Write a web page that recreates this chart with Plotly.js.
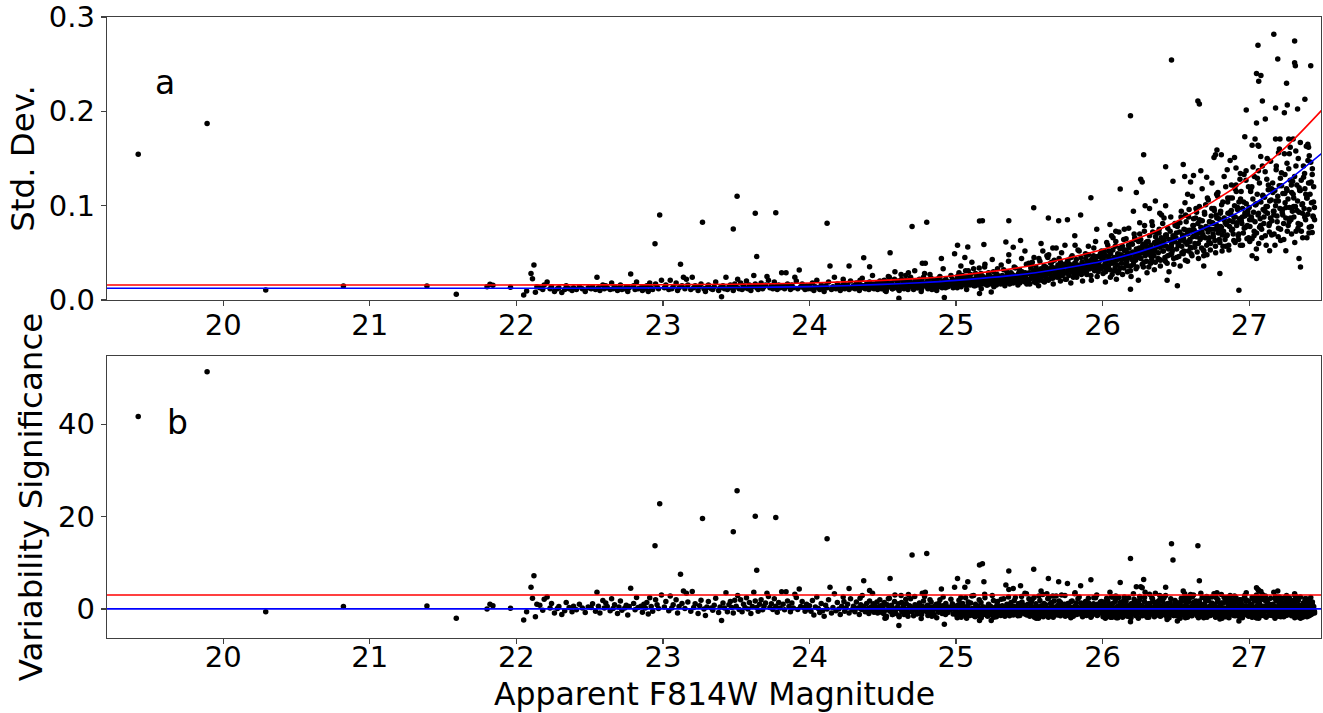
<!DOCTYPE html>
<html>
<head>
<meta charset="utf-8">
<script src="https://cdn.plot.ly/plotly-3.0.1.min.js"></script>
<style>html,body{margin:0;padding:0;background:#fff;}#chart{width:1323px;height:713px;}</style>
</head>
<body>
<div id="chart"></div>
<script>
// ---------- tick labels and titles ----------
const xTicks = [20, 21, 22, 23, 24, 25, 26, 27];
const xTickText = ['20', '21', '22', '23', '24', '25', '26', '27'];
const stdTicks = [0, 0.1, 0.2, 0.3];
const stdTickText = ['0.0', '0.1', '0.2', '0.3'];
const sigTicks = [0, 20, 40];
const sigTickText = ['0', '20', '40'];
const xTitle = 'Apparent F814W Magnitude';

// ---------- model curves (panel a) ----------
const curveMag = [19.0, 22.0, 23.0, 23.5, 24.0, 24.5, 24.75, 25.0, 25.5, 25.75, 26.0, 26.25, 26.5, 26.75, 27.0, 27.25, 27.5];
const blueCurve = [0.0124, 0.0124, 0.0128, 0.0132, 0.0142, 0.0165, 0.0183, 0.0208, 0.028, 0.034, 0.041, 0.051, 0.064, 0.080, 0.099, 0.125, 0.156];
const redCurve = [0.0159, 0.0159, 0.0162, 0.0167, 0.018, 0.0208, 0.0229, 0.026, 0.036, 0.044, 0.0535, 0.066, 0.083, 0.104, 0.130, 0.162, 0.202];

// ---------- threshold levels (panel b) ----------
const sigLineMag = [19.0, 27.7];
const sigRedLevel = [3, 3];
const sigBlueLevel = [0, 0];

// ---------- isolated / outlying stars ----------
const outMag = [19.42, 19.89, 20.29, 20.82, 21.39, 21.59, 21.80, 21.82, 21.84, 21.96,
  22.05, 22.07, 22.10, 22.12, 22.11, 22.13, 22.14,
  22.946, 22.978, 23.27, 23.48, 23.506, 23.63, 23.77, 23.64, 24.12, 23.12,
  24.37, 24.55, 24.41, 24.14, 24.27, 23.40, 24.61,
  27.168, 27.06, 27.31, 26.47, 27.195, 27.31, 27.315, 27.42, 27.05, 27.08,
  27.065, 27.255, 26.65, 26.66, 27.09, 27.38, 27.18, 27.26, 27.24, 27.33,
  26.98, 26.19, 27.11, 27.05, 26.97, 27.04, 27.06, 27.065, 27.02, 27.18,
  27.21, 27.27, 27.30, 27.40, 27.405, 27.41, 27.20, 27.28, 26.78, 26.81,
  26.76, 26.77, 26.90, 26.87, 26.91, 26.28, 26.43, 26.55, 26.94, 26.56,
  26.62, 26.67, 26.48, 26.26, 26.27, 26.12, 26.23, 25.92, 26.58, 26.29,
  26.32, 26.43, 26.21, 25.85, 25.63, 25.70, 25.76, 25.53, 25.36, 25.16,
  25.18, 24.80, 24.70, 25.19, 25.01, 25.08, 25.44, 25.34, 25.39, 24.90,
  24.99, 24.77, 24.79, 27.34, 27.35, 27.43, 27.05, 27.02, 26.93, 26.19,
  26.51, 26.69, 26.80, 26.44, 24.92, 25.16, 25.24, 27.25, 27.14, 25.06,
  25.36, 25.47, 25.58, 25.66, 25.81, 25.96, 26.05, 26.09, 26.36, 26.39,
  26.60, 26.71, 26.85];
const outStd = [0.1545, 0.187, 0.0106, 0.0148, 0.0148, 0.006, 0.014, 0.0166, 0.0156, 0.0135,
  0.0053, 0.0095, 0.028, 0.037, 0.0226, 0.0081, 0.0141,
  0.0597, 0.090, 0.0823, 0.0753, 0.110, 0.0919, 0.0926, 0.046, 0.0813, 0.038,
  0.0449, 0.050, 0.0353, 0.036, 0.036, 0.0035, 0.0018,
  0.2816, 0.270, 0.2745, 0.2544, 0.2555, 0.2516, 0.2484, 0.2484, 0.240, 0.238,
  0.232, 0.2297, 0.211, 0.2078, 0.211, 0.2127, 0.2035, 0.2067, 0.1985, 0.2025,
  0.2014, 0.1954, 0.1919, 0.1876, 0.173, 0.1708, 0.164, 0.163, 0.164, 0.1706,
  0.1706, 0.1706, 0.1706, 0.165, 0.162, 0.153, 0.156, 0.162, 0.159, 0.154,
  0.151, 0.154, 0.151, 0.148, 0.140, 0.154, 0.1413, 0.1436, 0.134, 0.131,
  0.132, 0.137, 0.126, 0.128, 0.125, 0.1177, 0.114, 0.1085, 0.112, 0.100,
  0.097, 0.100, 0.094, 0.090, 0.087, 0.084, 0.085, 0.0979, 0.084, 0.0837,
  0.084, 0.0823, 0.078, 0.0589, 0.058, 0.0562, 0.063, 0.0614, 0.056, 0.044,
  0.049, 0.039, 0.039, 0.044, 0.035, 0.0715, 0.044, 0.047, 0.0103, 0.0113,
  0.015, 0.036, 0.028, 0.021, 0.0025, 0.007, 0.0085, 0.0523, 0.0523, 0.045,
  0.048, 0.052, 0.060, 0.055, 0.068, 0.075, 0.080, 0.073, 0.105, 0.092,
  0.125, 0.130, 0.138];
const outSig = [41.7, 51.4, -0.6, 0.5, 0.65, -2.0, 0.0, 1.0, 0.7, 0.15,
  -2.4, -0.6, 4.7, 7.2, 2.3, -1.7, 1.0,
  13.7, 22.8, 19.6, 16.7, 25.6, 20.1, 19.8, 8.4, 15.2, 7.5,
  6.1, 6.6, 4.0, 4.7, 4.4, -2.5, -3.6,
  3.6, 4.2, 3.3, 14.1, 3.9, 3.0, 2.8, 2.5, 4.6, 3.8,
  4.0, 2.9, 13.7, 6.1, 3.1, 2.2, 2.7, 2.6, 2.3, 2.0,
  3.5, 10.9, 2.8, 3.0, 2.9, 2.6, 2.4, 2.2, 2.5, 2.2,
  2.0, 1.9, 1.8, 1.5, 1.4, 1.2, 1.7, 1.6, 3.5, 3.1,
  3.3, 3.2, 2.8, 2.9, 2.4, 6.4, 4.7, 3.9, 2.0, 3.3,
  3.0, 3.4, 10.6, 4.8, 4.6, 5.7, 4.8, 6.3, 2.6, 3.6,
  3.2, 2.9, 3.3, 5.0, 6.6, 5.9, 5.5, 8.6, 8.2, 9.5,
  9.8, 12.0, 11.7, 5.9, 6.6, 5.9, 5.0, 5.2, 4.4, 4.3,
  4.7, 3.4, 3.6, -1.8, -2.0, -0.9, -1.9, -1.7, -2.6, -2.8,
  -2.6, -1.9, -2.2, -2.3, -3.3, -2.5, -2.5, -1.4, -1.3, 4.7,
  4.2, 3.4, 3.9, 2.8, 3.3, 3.0, 3.6, 2.8, 3.4, 2.9,
  3.1, 2.7, 2.5];

// ---------- bulk: bright stars 22.15 - 24.5 ----------
const brightMag = [
  22.16,22.18,22.19,22.21,22.23,22.24,22.26,22.28,22.29,22.31,
  22.33,22.34,22.36,22.38,22.39,22.41,22.43,22.45,22.47,22.49,
  22.51,22.52,22.54,22.55,22.56,22.57,22.59,22.60,22.61,22.62,
  22.64,22.65,22.66,22.67,22.69,22.70,22.71,22.72,22.74,22.75,
  22.76,22.77,22.78,22.80,22.81,22.82,22.83,22.85,22.86,22.87,
  22.88,22.89,22.90,22.91,22.92,22.93,22.95,22.96,22.97,22.99,
  23.01,23.02,23.04,23.05,23.06,23.07,23.09,23.10,23.11,23.13,
  23.14,23.15,23.16,23.17,23.19,23.20,23.21,23.22,23.24,23.25,
  23.26,23.28,23.29,23.30,23.31,23.33,23.34,23.35,23.36,23.38,
  23.39,23.41,23.42,23.43,23.44,23.45,23.46,23.47,23.48,23.49,
  23.50,23.51,23.52,23.53,23.54,23.55,23.56,23.57,23.58,23.59,
  23.60,23.61,23.62,23.63,23.64,23.65,23.66,23.67,23.68,23.69,
  23.70,23.71,23.72,23.73,23.74,23.75,23.76,23.77,23.78,23.79,
  23.80,23.81,23.82,23.83,23.84,23.85,23.86,23.87,23.88,23.89,
  23.90,23.91,23.92,23.93,23.94,23.95,23.96,23.97,23.98,23.99,
  24.00,24.01,24.02,24.03,24.04,24.05,24.06,24.07,24.08,24.09,
  24.10,24.11,24.12,24.13,24.15,24.16,24.17,24.18,24.19,24.20,
  24.21,24.22,24.23,24.24,24.25,24.26,24.27,24.28,24.29,24.30,
  24.31,24.32,24.33,24.34,24.35,24.355,24.36,24.37,24.38,24.39,
  24.40,24.405,24.41,24.42,24.425,24.43,24.44,24.445,24.45,24.46,
  24.465,24.47,24.475,24.48,24.485,24.49,24.495,24.435,24.345,24.235];
const brightStd = [
  0.013,0.011,0.016,0.019,0.012,0.014,0.009,0.012,0.013,0.008,
  0.011,0.015,0.012,0.010,0.013,0.011,0.014,0.012,0.009,0.013,
  0.012,0.014,0.011,0.024,0.013,0.010,0.016,0.012,0.015,0.013,
  0.011,0.018,0.012,0.014,0.010,0.013,0.016,0.011,0.012,0.014,
  0.009,0.013,0.0276,0.015,0.011,0.019,0.012,0.013,0.010,0.014,
  0.012,0.015,0.009,0.018,0.013,0.011,0.017,0.014,0.012,0.021,
  0.013,0.016,0.011,0.021,0.012,0.014,0.018,0.010,0.013,0.015,
  0.024,0.012,0.022,0.016,0.011,0.024,0.013,0.015,0.010,0.014,
  0.017,0.012,0.009,0.013,0.016,0.012,0.011,0.014,0.019,0.010,
  0.013,0.015,0.012,0.024,0.011,0.014,0.016,0.013,0.010,0.017,
  0.014,0.022,0.012,0.018,0.011,0.015,0.013,0.020,0.012,0.016,
  0.010,0.014,0.026,0.017,0.013,0.011,0.015,0.018,0.012,0.014,
  0.016,0.025,0.021,0.013,0.015,0.012,0.019,0.014,0.011,0.016,
  0.013,0.029,0.015,0.012,0.029,0.017,0.014,0.011,0.016,0.013,
  0.024,0.020,0.012,0.0318,0.014,0.017,0.013,0.011,0.015,0.012,
  0.015,0.012,0.018,0.010,0.014,0.021,0.013,0.011,0.016,0.012,
  0.009,0.015,0.013,0.019,0.011,0.014,0.024,0.012,0.017,0.013,
  0.010,0.015,0.022,0.012,0.014,0.016,0.011,0.020,0.013,0.015,
  0.012,0.018,0.014,0.010,0.016,0.013,0.023,0.015,0.012,0.017,
  0.014,0.011,0.019,0.015,0.013,0.026,0.012,0.016,0.014,0.018,
  0.011,0.015,0.013,0.020,0.016,0.012,0.014,0.017,0.021,0.018];
const brightSig = [
  0.8,-0.3,2.1,2.6,0.2,1.2,-0.9,0.1,0.5,-1.2,
  -0.4,1.4,0.3,-0.6,0.6,-0.2,1.0,0.2,-0.8,0.4,
  0.3,1.1,-0.5,3.6,0.6,-0.9,1.8,0.2,1.3,0.5,
  -0.4,2.2,0.1,0.9,-1.0,0.4,1.7,-0.3,0.2,0.8,
  -1.3,0.5,4.5,1.2,-0.2,2.5,0.3,0.6,-0.7,1.0,
  0.2,1.4,-1.1,2.4,0.5,-0.5,2.0,0.9,0.1,3.0,
  0.4,1.6,-0.4,2.8,0.2,0.9,2.0,-0.9,0.5,1.2,
  3.9,0.1,3.4,1.5,-0.5,3.8,0.3,1.1,-1.0,0.7,
  1.9,0.0,-1.4,0.4,1.6,0.2,-0.3,0.8,2.3,-0.8,
  0.4,1.3,0.2,3.5,-0.6,0.9,1.6,0.3,-0.9,1.9,
  0.6,2.9,-0.1,2.0,-0.6,1.0,0.3,2.4,0.0,1.4,
  -1.0,0.5,3.6,1.7,0.3,-0.5,1.0,2.0,-0.2,0.6,
  1.3,3.4,2.7,0.3,1.1,-0.1,2.2,0.6,-0.7,1.4,
  0.2,3.7,1.0,-0.2,3.7,1.7,0.5,-0.6,1.3,0.2,
  3.2,2.5,-0.1,4.3,0.5,1.6,0.3,-0.5,1.0,0.0,
  0.7,-0.5,1.8,-1.3,0.4,2.6,0.1,-0.8,1.2,-0.4,
  -1.6,0.8,0.0,2.0,-0.9,0.3,3.3,-0.4,1.4,0.0,
  -1.2,0.6,2.6,-0.5,0.2,1.0,-0.9,2.2,-0.2,0.6,
  -0.6,1.5,0.2,-1.2,0.9,-0.1,2.9,0.5,-0.6,1.2,
  0.1,-1.0,1.7,0.4,-0.3,3.4,-0.7,0.7,0.0,1.5,
  -0.9,0.4,-0.3,2.0,0.7,-0.7,0.1,1.1,2.3,1.6];

// ---------- bulk: intermediate stars 24.5 - 25.5 ----------
const midMag = [
  24.50,24.505,24.51,24.52,24.525,24.53,24.54,24.545,24.55,24.56,
  24.565,24.57,24.58,24.585,24.59,24.60,24.605,24.61,24.62,24.625,
  24.63,24.64,24.645,24.65,24.66,24.665,24.67,24.68,24.685,24.69,
  24.70,24.705,24.71,24.72,24.725,24.73,24.74,24.745,24.75,24.76,
  24.765,24.77,24.78,24.785,24.79,24.80,24.805,24.81,24.82,24.825,
  24.83,24.84,24.845,24.85,24.86,24.865,24.87,24.88,24.885,24.89,
  24.90,24.905,24.91,24.92,24.925,24.93,24.94,24.945,24.95,24.96,
  24.965,24.97,24.98,24.985,24.99,24.995,24.515,24.675,24.835,24.975,
  25.000,25.005,25.010,25.015,25.020,25.025,25.030,25.035,25.040,25.045,
  25.050,25.055,25.060,25.065,25.070,25.075,25.080,25.085,25.090,25.095,
  25.100,25.105,25.110,25.115,25.120,25.125,25.130,25.135,25.140,25.145,
  25.150,25.155,25.160,25.165,25.170,25.175,25.180,25.185,25.190,25.195,
  25.200,25.205,25.210,25.215,25.220,25.225,25.230,25.235,25.240,25.245,
  25.250,25.255,25.260,25.265,25.270,25.275,25.280,25.285,25.290,25.295,
  25.300,25.305,25.310,25.315,25.320,25.325,25.330,25.335,25.340,25.345,
  25.350,25.355,25.360,25.365,25.370,25.375,25.380,25.385,25.390,25.395,
  25.400,25.405,25.410,25.415,25.420,25.425,25.430,25.435,25.440,25.445,
  25.450,25.455,25.460,25.465,25.470,25.475,25.480,25.485,25.490,25.495];
const midStd = [
  0.017,0.013,0.021,0.015,0.011,0.019,0.016,0.024,0.014,0.018,
  0.012,0.016,0.022,0.015,0.013,0.017,0.020,0.011,0.016,0.027,
  0.014,0.018,0.012,0.016,0.021,0.015,0.013,0.019,0.017,0.024,
  0.014,0.016,0.011,0.020,0.015,0.018,0.013,0.017,0.022,0.016,
  0.012,0.019,0.015,0.028,0.017,0.014,0.020,0.016,0.013,0.018,
  0.023,0.015,0.017,0.012,0.019,0.021,0.016,0.014,0.018,0.025,
  0.016,0.013,0.020,0.017,0.015,0.022,0.018,0.014,0.019,0.016,
  0.026,0.017,0.013,0.020,0.018,0.015,0.010,0.029,0.011,0.022,
  0.021,0.016,0.025,0.019,0.029,0.018,0.022,0.014,0.020,0.026,
  0.017,0.023,0.019,0.031,0.015,0.021,0.024,0.018,0.020,0.016,
  0.027,0.019,0.022,0.017,0.033,0.020,0.015,0.023,0.021,0.018,
  0.025,0.016,0.022,0.019,0.028,0.021,0.017,0.024,0.020,0.035,
  0.018,0.023,0.021,0.016,0.026,0.022,0.019,0.025,0.017,0.023,
  0.021,0.030,0.018,0.024,0.020,0.016,0.027,0.022,0.019,0.025,
  0.023,0.017,0.021,0.026,0.020,0.032,0.018,0.024,0.022,0.019,
  0.027,0.021,0.025,0.017,0.023,0.029,0.020,0.024,0.018,0.026,
  0.022,0.034,0.019,0.025,0.021,0.028,0.023,0.018,0.026,0.022,
  0.030,0.020,0.024,0.027,0.019,0.025,0.038,0.022,0.028,0.021];
const midSig = [
  0.3,-1.0,1.4,-0.3,-1.6,0.9,0.0,2.3,-0.5,0.8,
  -1.2,0.1,1.6,-0.4,-1.0,0.2,1.1,-1.5,0.0,2.9,
  -0.6,0.6,-1.2,0.0,1.2,-0.4,-0.9,0.7,0.2,2.2,
  -0.6,0.0,-1.5,0.9,-0.3,0.5,-0.9,0.2,1.3,-0.1,
  -1.2,0.6,-0.4,2.7,0.1,-0.6,0.8,-0.1,-0.9,0.4,
  1.5,-0.4,0.1,-1.2,0.5,1.0,-0.1,-0.7,0.3,2.0,
  -0.2,-1.0,0.7,0.1,-0.5,1.2,0.3,-0.8,0.4,-0.2,
  2.1,0.0,-1.1,0.6,0.2,-0.5,-2.0,3.1,-1.6,1.1,
  0.0,-1.4,0.8,-0.8,1.9,-1.0,0.3,-1.8,-0.5,1.2,
  -1.2,0.4,-0.7,2.4,-1.6,-0.1,0.6,-1.0,-0.4,-1.4,
  1.3,-0.8,0.1,-1.2,2.9,-0.4,-1.7,0.3,-0.2,-1.1,
  0.6,-1.5,0.0,-0.8,1.4,-0.2,-1.3,0.4,-0.5,3.2,
  -1.1,0.2,-0.3,-1.6,0.8,-0.1,-0.9,0.6,-1.3,0.2,
  -0.4,1.8,-1.2,0.3,-0.6,-1.7,1.0,-0.2,-1.0,0.5,
  0.0,-1.4,-0.5,0.7,-0.7,2.2,-1.3,0.2,-0.3,-1.0,
  0.9,-0.5,0.4,-1.5,-0.1,1.4,-0.8,0.2,-1.3,0.6,
  -0.4,2.5,-1.1,0.3,-0.6,1.1,-0.2,-1.4,0.5,-0.4,
  1.5,-0.9,0.0,0.8,-1.1,0.2,3.3,-0.5,1.0,-0.7];

// ---------- bulk: faint stars 25.5 - 26.5 ----------
const faintMag = [
  25.500,25.505,25.510,25.515,25.520,25.525,25.530,25.535,25.540,25.545,
  25.550,25.555,25.560,25.565,25.570,25.575,25.580,25.585,25.590,25.595,
  25.600,25.605,25.610,25.615,25.620,25.625,25.630,25.635,25.640,25.645,
  25.650,25.655,25.660,25.665,25.670,25.675,25.680,25.685,25.690,25.695,
  25.700,25.705,25.710,25.715,25.720,25.725,25.730,25.735,25.740,25.745,
  25.750,25.755,25.760,25.765,25.770,25.775,25.780,25.785,25.790,25.795,
  25.800,25.805,25.810,25.815,25.820,25.825,25.830,25.835,25.840,25.845,
  25.850,25.855,25.860,25.865,25.870,25.875,25.880,25.885,25.890,25.895,
  25.900,25.905,25.910,25.915,25.920,25.925,25.930,25.935,25.940,25.945,
  25.950,25.955,25.960,25.965,25.970,25.975,25.980,25.985,25.990,25.995,
  25.513,25.547,25.582,25.626,25.668,25.713,25.758,25.812,25.873,25.938,
  26.000,26.005,26.010,26.015,26.020,26.025,26.030,26.035,26.040,26.045,
  26.050,26.055,26.060,26.065,26.070,26.075,26.080,26.085,26.090,26.095,
  26.100,26.105,26.110,26.115,26.120,26.125,26.130,26.135,26.140,26.145,
  26.150,26.155,26.160,26.165,26.170,26.175,26.180,26.185,26.190,26.195,
  26.200,26.205,26.210,26.215,26.220,26.225,26.230,26.235,26.240,26.245,
  26.250,26.255,26.260,26.265,26.270,26.275,26.280,26.285,26.290,26.295,
  26.300,26.305,26.310,26.315,26.320,26.325,26.330,26.335,26.340,26.345,
  26.350,26.355,26.360,26.365,26.370,26.375,26.380,26.385,26.390,26.395,
  26.400,26.405,26.410,26.415,26.420,26.425,26.430,26.435,26.440,26.445,
  26.450,26.455,26.460,26.465,26.470,26.475,26.480,26.485,26.490,26.495,
  26.012,26.027,26.043,26.058,26.071,26.088,26.104,26.119,26.133,26.148,
  26.162,26.177,26.191,26.206,26.222,26.238,26.253,26.267,26.282,26.297,
  26.313,26.328,26.342,26.357,26.373,26.388,26.402,26.418,26.433,26.471];
const faintStd = [
  0.029,0.022,0.034,0.026,0.040,0.024,0.031,0.019,0.028,0.035,
  0.023,0.030,0.026,0.044,0.021,0.029,0.033,0.025,0.027,0.020,
  0.036,0.026,0.031,0.023,0.047,
  0.028,0.021,0.033,0.030,0.039,0.026,0.035,0.023,0.031,0.042,
  0.027,0.034,0.029,0.024,0.037,0.032,0.025,0.036,0.030,0.050,
  0.026,0.033,0.028,0.038,0.022,
  0.035,0.029,0.041,0.032,0.026,0.038,0.033,0.045,0.030,0.036,
  0.024,0.034,0.039,0.031,0.043,0.028,0.037,0.033,0.052,0.030,
  0.036,0.027,0.040,0.034,0.031,
  0.038,0.032,0.044,0.029,0.041,0.036,0.048,0.033,0.040,0.026,
  0.043,0.037,0.035,0.055,0.031,0.042,0.038,0.034,0.046,0.030,
  0.040,0.036,0.049,0.033,0.044,
  0.037,0.018,0.030,0.045,0.025,0.040,0.029,0.058,0.034,0.047,
  0.043,0.035,0.051,0.038,0.030,0.047,0.041,0.058,0.036,0.044,
  0.032,0.049,0.040,0.027,0.053,0.039,0.045,0.034,0.062,0.042,
  0.037,0.048,0.031,0.044,0.055,
  0.048,0.039,0.057,0.044,0.034,0.052,0.046,0.065,0.041,0.050,
  0.036,0.055,0.045,0.031,0.060,0.043,0.051,0.038,0.070,0.047,
  0.042,0.054,0.035,0.049,0.062,
  0.055,0.045,0.064,0.050,0.038,0.059,0.052,0.073,0.047,0.057,
  0.041,0.062,0.051,0.035,0.068,0.049,0.058,0.043,0.079,0.053,
  0.047,0.061,0.040,0.056,0.071,
  0.061,0.050,0.071,0.056,0.042,0.066,0.058,0.081,0.052,0.063,
  0.045,0.069,0.057,0.039,0.076,0.054,0.064,0.048,0.088,0.059,
  0.052,0.068,0.044,0.062,0.079,
  0.046,0.033,0.052,0.039,0.066,0.044,0.029,0.054,0.047,0.075,
  0.042,0.058,0.036,0.050,0.064,0.045,0.082,0.053,0.040,0.061,
  0.056,0.047,0.072,0.052,0.063,0.043,0.090,0.058,0.067,0.049];
const faintSig = [
  0.0,-1.3,0.9,-0.5,2.1,-0.9,0.3,-1.8,-0.2,1.1,
  -1.1,0.2,-0.5,2.8,-1.5,0.0,0.7,-0.7,-0.3,-1.7,
  1.2,-0.5,0.4,-1.1,3.3,
  -0.7,-1.8,0.2,-0.3,1.2,-1.0,0.5,-1.5,-0.1,1.7,
  -0.8,0.4,-0.5,-1.3,0.8,0.0,-1.2,0.7,-0.3,3.0,
  -1.0,0.2,-0.7,1.0,-1.6,
  0.0,-0.9,0.9,-0.5,-1.4,0.5,-0.3,1.6,-0.8,0.2,
  -1.6,-0.2,0.6,-0.6,1.3,-1.1,0.3,-0.3,2.6,-0.8,
  0.1,-1.2,0.8,-0.2,-0.6,
  -0.1,-1.0,0.7,-1.4,0.3,-0.4,1.3,-0.8,0.2,-1.8,
  0.6,-0.3,-0.5,2.4,-1.1,0.4,-0.1,-0.7,1.0,-1.2,
  0.2,-0.4,1.5,-0.8,0.7,
  1.6,-2.0,0.2,2.2,-1.2,1.4,-0.9,3.5,-0.6,1.1,
  0.0,-0.9,0.9,-0.6,-1.5,0.5,-0.2,1.7,-0.8,0.1,
  -1.3,0.7,-0.3,-1.8,1.2,-0.5,0.2,-1.0,2.2,-0.1,
  -0.7,0.6,-1.4,0.1,1.4,
  -0.1,-1.0,0.8,-0.5,-1.5,0.3,-0.3,1.6,-0.8,0.1,
  -1.3,0.6,-0.4,-1.8,1.1,-0.6,0.2,-1.1,2.1,-0.2,
  -0.7,0.5,-1.4,0.0,1.3,
  0.0,-0.9,0.8,-0.5,-1.5,0.4,-0.3,1.6,-0.7,0.2,
  -1.3,0.6,-0.4,-1.8,1.2,-0.5,0.3,-1.1,2.2,-0.2,
  -0.7,0.5,-1.4,0.1,1.5,
  0.0,-0.9,0.8,-0.4,-1.6,0.4,-0.2,1.6,-0.7,0.2,
  -1.3,0.7,-0.3,-1.8,1.2,-0.6,0.2,-1.1,2.2,-0.2,
  -0.7,0.6,-1.4,0.1,1.5,
  0.5,-1.1,1.1,-0.6,2.6,-0.1,-1.9,0.8,-0.2,2.6,
  -0.8,0.7,-1.4,-0.1,1.3,-0.6,2.7,-0.2,-1.3,0.5,
  -0.1,-0.9,1.5,-0.6,0.2,-1.5,2.6,-0.5,0.4,-1.1];

// ---------- bulk: faintest stars 26.5 - 27.45 ----------
const faintestMag = [
  26.500,26.505,26.510,26.515,26.520,26.525,26.530,26.535,26.540,26.545,
  26.550,26.555,26.560,26.565,26.570,26.575,26.580,26.585,26.590,26.595,
  26.600,26.605,26.610,26.615,26.620,26.625,26.630,26.635,26.640,26.645,
  26.650,26.655,26.660,26.665,26.670,26.675,26.680,26.685,26.690,26.695,
  26.700,26.705,26.710,26.715,26.720,26.725,26.730,26.735,26.740,26.745,
  26.750,26.755,26.760,26.765,26.770,26.775,26.780,26.785,26.790,26.795,
  26.800,26.805,26.810,26.815,26.820,26.825,26.830,26.835,26.840,26.845,
  26.850,26.855,26.860,26.865,26.870,26.875,26.880,26.885,26.890,26.895,
  26.900,26.905,26.910,26.915,26.920,26.925,26.930,26.935,26.940,26.945,
  26.950,26.955,26.960,26.965,26.970,26.975,26.980,26.985,26.990,26.995,
  26.503,26.516,26.528,26.541,26.553,26.566,26.578,26.591,26.603,26.616,
  26.628,26.641,26.653,26.666,26.678,26.691,26.703,26.716,26.728,26.741,
  26.753,26.766,26.778,26.791,26.803,26.816,26.828,26.841,26.853,26.866,
  26.878,26.891,26.903,26.916,26.928,26.941,26.953,26.966,26.978,26.991,
  27.000,27.005,27.010,27.015,27.020,27.025,27.030,27.035,27.040,27.045,
  27.050,27.055,27.060,27.065,27.070,27.075,27.080,27.085,27.090,27.095,
  27.100,27.105,27.110,27.115,27.120,27.125,27.130,27.135,27.140,27.145,
  27.150,27.155,27.160,27.165,27.170,27.175,27.180,27.185,27.190,27.195,
  27.200,27.205,27.210,27.215,27.220,27.225,27.230,27.235,27.240,27.245,
  27.250,27.255,27.260,27.265,27.270,27.275,27.280,27.285,27.290,27.295,
  27.300,27.305,27.310,27.315,27.320,27.325,27.330,27.335,27.340,27.345,
  27.350,27.355,27.360,27.365,27.370,27.375,27.380,27.385,27.390,27.395,
  27.400,27.405,27.410,27.415,27.420,27.425,27.430,27.435,27.440,27.445,
  27.003,27.018,27.033,27.048,27.063,27.078,27.093,27.108,27.123,27.138,
  27.153,27.168,27.183,27.198,27.213,27.228,27.243,27.258,27.273,27.288,
  27.303,27.318,27.333,27.348,27.363,27.378,27.393,27.408,27.423,27.438];
const faintestStd = [
  0.066,0.054,0.078,0.060,0.046,0.072,0.063,0.088,0.057,0.069,
  0.049,0.075,0.062,0.042,0.083,0.059,0.070,0.052,0.096,0.064,
  0.056,0.074,0.047,0.067,0.086,
  0.074,0.060,0.087,0.067,0.051,0.081,0.071,0.099,0.064,0.077,
  0.055,0.084,0.069,0.047,0.093,0.066,0.078,0.058,0.108,0.072,
  0.062,0.083,0.053,0.075,0.097,
  0.082,0.067,0.097,0.075,0.057,0.090,0.079,0.110,0.071,0.086,
  0.061,0.094,0.077,0.052,0.104,0.073,0.087,0.064,0.120,0.080,
  0.069,0.092,0.058,0.084,0.108,
  0.091,0.074,0.108,0.083,0.063,0.100,0.088,0.122,0.079,0.096,
  0.068,0.104,0.086,0.058,0.115,0.081,0.097,0.071,0.133,0.089,
  0.077,0.102,0.065,0.094,0.120,
  0.071,0.058,0.082,0.050,0.065,0.090,0.061,0.074,0.055,0.079,
  0.068,0.093,0.060,0.084,0.072,0.052,0.101,0.077,0.066,0.089,
  0.081,0.063,0.112,0.074,0.092,0.069,0.085,0.057,0.104,0.078,
  0.095,0.070,0.118,0.082,0.064,0.107,0.088,0.076,0.127,0.091,
  0.098,0.078,0.115,0.088,0.065,0.107,0.093,0.131,0.083,0.101,
  0.071,0.112,0.090,0.060,0.124,0.086,0.104,0.075,0.142,0.096,
  0.081,0.109,0.068,0.099,0.128,0.092,0.117,0.079,0.105,0.087,
  0.106,0.084,0.124,0.094,0.070,0.116,0.100,0.142,0.089,0.110,
  0.076,0.121,0.097,0.063,0.135,0.093,0.113,0.081,0.155,0.103,
  0.087,0.118,0.073,0.107,0.139,0.098,0.127,0.085,0.114,0.094,
  0.112,0.088,0.131,0.099,0.073,0.122,0.105,0.150,0.093,0.116,
  0.080,0.127,0.101,0.066,0.142,0.097,0.118,0.085,0.163,0.108,
  0.091,0.124,0.077,0.112,0.146,0.103,0.133,0.089,0.120,0.098,
  0.085,0.120,0.068,0.102,0.137,0.079,0.111,0.094,0.150,0.072,
  0.118,0.090,0.105,0.067,0.129,0.096,0.113,0.145,0.083,0.122,
  0.099,0.158,0.076,0.116,0.092,0.134,0.108,0.071,0.125,0.088];
const faintestSig = [
  -0.1,-1.0,0.8,-0.5,-1.6,0.4,-0.3,1.6,-0.7,0.1,
  -1.3,0.6,-0.4,-1.9,1.2,-0.6,0.2,-1.1,2.2,-0.2,
  -0.8,0.5,-1.5,0.0,1.4,
  0.0,-0.9,0.9,-0.4,-1.5,0.5,-0.2,1.7,-0.8,0.2,
  -1.2,0.7,-0.5,-1.8,1.1,-0.5,0.3,-1.0,2.4,-0.1,
  -0.7,0.6,-1.4,0.1,1.3,
  -0.2,-1.1,0.7,-0.6,-1.7,0.3,-0.3,1.5,-0.6,0.0,
  -1.4,0.5,-0.3,-2.0,1.3,-0.7,0.1,-1.2,2.0,-0.3,
  -0.9,0.4,-1.6,-0.1,1.6,
  0.1,-0.8,1.0,-0.3,-1.4,0.6,-0.1,1.8,-0.5,0.3,
  -1.1,0.8,-0.2,-1.7,1.4,-0.4,0.4,-0.9,2.3,0.0,
  -0.6,0.7,-1.3,0.2,1.7,
  0.5,-0.5,1.3,-1.2,-0.1,1.6,-0.6,0.3,-1.1,0.6,
  -0.4,1.5,-1.0,0.8,-0.3,-1.6,2.0,0.1,-0.8,0.9,
  0.1,-1.1,2.3,-0.6,0.7,-1.0,0.2,-1.7,1.3,-0.8,
  0.3,-1.2,1.6,-0.8,-1.6,0.7,-0.5,-1.1,1.7,-0.4,
  0.0,-1.1,0.9,-0.6,-1.8,0.4,-0.3,1.7,-0.8,0.1,
  -1.4,0.7,-0.5,-2.0,1.3,-0.7,0.3,-1.2,2.1,-0.1,
  -0.9,0.5,-1.6,0.0,1.5,-0.4,1.0,-1.0,0.3,-0.6,
  0.1,-0.9,1.0,-0.4,-1.5,0.6,-0.1,1.9,-0.6,0.3,
  -1.2,0.9,-0.3,-1.7,1.4,-0.5,0.5,-0.9,2.4,0.0,
  -0.7,0.8,-1.3,0.2,1.6,-0.2,1.2,-0.8,0.6,-0.4,
  0.0,-1.0,0.9,-0.5,-1.6,0.5,-0.2,1.8,-0.7,0.2,
  -1.3,0.7,-0.4,-1.8,1.3,-0.6,0.4,-1.0,2.2,-0.1,
  -0.8,0.6,-1.4,0.1,1.5,-0.3,1.1,-0.9,0.5,-0.5,
  -0.7,0.9,-1.5,0.1,1.5,-1.0,0.5,-0.4,2.0,-1.3,
  0.7,-0.5,0.2,-1.6,1.1,-0.3,0.4,1.6,-0.9,0.8,
  -0.2,2.1,-1.2,0.5,-0.6,1.2,0.1,-1.5,0.9,-0.8];

// ---------- bulk: additional faint stars with the wider spread, 24.5 - 27.45 ----------
const spreadMag = [
  24.507,24.523,24.538,24.552,24.567,24.583,24.598,24.612,24.628,24.643,
  24.657,24.672,24.688,24.703,24.718,24.733,24.747,24.762,24.778,24.793,
  24.808,24.822,24.838,24.853,24.868,24.882,24.897,24.912,24.928,24.943,
  25.008,25.021,25.033,25.047,25.058,25.072,25.083,25.097,25.108,25.122,
  25.133,25.147,25.158,25.172,25.183,25.197,25.208,25.222,25.233,25.247,
  25.258,25.272,25.283,25.297,25.308,25.322,25.333,25.347,25.358,25.372,
  25.383,25.397,25.408,25.422,25.433,25.447,25.458,25.472,25.483,25.497,
  25.503,25.512,25.523,25.532,25.543,25.552,25.563,25.572,25.583,25.592,
  25.603,25.612,25.623,25.632,25.643,25.652,25.663,25.672,25.683,25.692,
  25.703,25.712,25.723,25.732,25.743,25.752,25.763,25.772,25.783,25.792,
  25.803,25.812,25.823,25.832,25.843,25.852,25.863,25.872,25.883,25.892,
  25.903,25.912,25.923,25.932,25.943,25.952,25.963,25.972,25.983,25.992,
  26.003,26.011,26.019,26.028,26.036,26.044,26.053,26.061,26.069,26.078,
  26.086,26.094,26.103,26.111,26.119,26.128,26.136,26.144,26.153,26.161,
  26.169,26.178,26.186,26.194,26.203,26.211,26.219,26.228,26.236,26.244,
  26.253,26.261,26.269,26.278,26.286,26.294,26.303,26.311,26.319,26.328,
  26.336,26.344,26.353,26.361,26.369,26.378,26.386,26.394,26.403,26.411,
  26.419,26.428,26.436,26.444,26.453,26.461,26.469,26.478,26.486,26.494,
  26.504,26.512,26.521,26.529,26.537,26.546,26.554,26.562,26.571,26.579,
  26.587,26.596,26.604,26.612,26.621,26.629,26.637,26.646,26.654,26.662,
  26.671,26.679,26.687,26.696,26.704,26.712,26.721,26.729,26.737,26.746,
  26.754,26.762,26.771,26.779,26.787,26.796,26.804,26.812,26.821,26.829,
  26.837,26.846,26.854,26.862,26.871,26.879,26.887,26.896,26.904,26.912,
  26.921,26.929,26.937,26.946,26.954,26.962,26.971,26.979,26.987,26.996,
  27.004,27.011,27.019,27.026,27.034,27.041,27.049,27.056,27.064,27.071,
  27.079,27.086,27.094,27.101,27.109,27.116,27.124,27.131,27.139,27.146,
  27.154,27.161,27.169,27.176,27.184,27.191,27.199,27.206,27.214,27.221,
  27.229,27.236,27.244,27.251,27.259,27.266,27.274,27.281,27.289,27.296,
  27.304,27.311,27.319,27.326,27.334,27.341,27.349,27.356,27.364,27.371,
  27.379,27.386,27.394,27.401,27.409,27.416,27.424,27.431,27.439,27.446];
const spreadStd = [
  0.020,0.009,0.025,0.015,0.012,0.030,0.018,0.010,0.022,0.014,
  0.026,0.011,0.019,0.016,0.031,0.013,0.021,0.009,0.024,0.017,
  0.012,0.027,0.015,0.020,0.010,0.023,0.016,0.033,0.013,0.019,
  0.013,0.027,0.036,0.017,0.024,0.011,0.031,0.020,0.040,0.015,
  0.028,0.018,0.034,0.012,0.025,0.038,0.016,0.029,0.021,0.043,
  0.014,0.026,0.033,0.019,0.037,0.023,0.015,0.030,0.041,0.018,
  0.027,0.035,0.020,0.016,0.032,0.044,0.022,0.029,0.017,0.039,
  0.017,0.038,0.025,0.045,0.021,0.032,0.015,0.041,0.027,0.052,
  0.019,0.035,0.029,0.048,0.023,0.040,0.017,0.033,0.055,0.026,
  0.044,0.020,0.037,0.030,0.058,0.022,0.042,0.034,0.018,0.047,
  0.028,0.039,0.024,0.053,0.031,0.045,0.020,0.036,0.049,0.027,
  0.057,0.033,0.021,0.043,0.038,0.062,0.025,0.046,0.035,0.052,
  0.028,0.052,0.019,0.061,0.036,0.045,0.024,0.068,0.040,0.031,
  0.057,0.022,0.049,0.072,0.034,0.043,0.027,0.064,0.053,0.038,
  0.030,0.076,0.046,0.025,0.059,0.041,0.066,0.033,0.051,0.021,
  0.070,0.044,0.056,0.035,0.079,0.048,0.029,0.062,0.054,0.039,
  0.083,0.050,0.032,0.067,0.058,0.044,0.075,0.036,0.061,0.052,
  0.087,0.041,0.069,0.047,0.030,0.073,0.056,0.064,0.038,0.081,
  0.045,0.081,0.058,0.036,0.094,0.068,0.052,0.103,0.074,0.041,
  0.088,0.062,0.049,0.110,0.079,0.056,0.097,0.071,0.044,0.085,
  0.066,0.118,0.053,0.091,0.076,0.048,0.106,0.083,0.060,0.124,
  0.070,0.095,0.050,0.087,0.114,0.064,0.078,0.101,0.057,0.131,
  0.082,0.068,0.108,0.053,0.093,0.122,0.075,0.088,0.061,0.115,
  0.098,0.070,0.128,0.084,0.058,0.104,0.092,0.137,0.079,0.066,
  0.062,0.118,0.085,0.141,0.073,0.101,0.054,0.129,0.092,0.077,
  0.152,0.066,0.110,0.088,0.136,0.058,0.099,0.122,0.081,0.147,
  0.069,0.114,0.094,0.058,0.138,0.083,0.105,0.160,0.075,0.121,
  0.090,0.064,0.133,0.098,0.116,0.079,0.155,0.087,0.070,0.126,
  0.108,0.061,0.142,0.095,0.081,0.119,0.167,0.073,0.102,0.130,
  0.088,0.112,0.066,0.148,0.096,0.124,0.078,0.139,0.104,0.085];
const spreadSig = [
  1.0,-1.9,2.2,-0.4,-1.2,3.0,0.3,-1.7,1.4,-0.8,
  2.1,-1.6,0.6,-0.3,2.7,-1.1,0.9,-2.1,1.7,0.0,
  -1.4,2.0,-0.7,0.6,-1.9,1.2,-0.4,2.6,-1.2,0.3,
  -1.9,0.9,2.5,-1.1,0.4,-2.0,1.5,-0.5,2.8,-1.5,
  1.0,-0.9,2.0,-1.9,0.4,2.4,-1.3,1.0,-0.4,2.9,
  -1.8,0.2,1.6,-1.0,2.1,-0.3,-1.6,1.0,2.6,-1.1,
  0.3,1.8,-0.7,-1.5,1.2,2.7,-0.5,0.6,-1.3,2.2,
  -1.6,1.6,-0.5,2.5,-1.1,0.5,-2.0,1.8,-0.4,3.1,
  -1.4,0.9,0.0,2.4,-1.0,1.4,-1.8,0.3,2.8,-0.7,
  1.7,-1.5,0.7,-0.2,2.9,-1.3,1.2,0.1,-1.9,1.7,
  -0.6,0.6,-1.2,2.2,-0.3,1.3,-1.7,0.2,1.6,-0.9,
  2.3,-0.3,-1.6,0.8,0.1,2.4,-1.4,0.9,-0.4,1.6,
  -1.7,1.5,-2.0,2.3,-0.7,0.4,-1.8,2.6,-0.3,-1.2,
  1.6,-1.9,0.6,2.5,-1.2,-0.1,-1.8,1.8,0.7,-0.9,
  -1.6,2.4,-0.2,-1.9,1.1,-0.7,1.7,-1.5,0.1,-2.0,
  2.0,-0.6,0.6,-1.3,2.5,-0.3,-1.8,1.1,0.3,-1.1,
  2.4,-0.2,-1.7,1.1,0.5,-0.8,1.8,-1.4,0.6,-0.3,
  2.4,-1.2,1.0,-0.7,-1.9,1.3,0.0,0.6,-1.4,1.8,
  -1.5,1.3,-0.5,-2.0,2.3,0.3,-1.0,2.5,0.6,-1.8,
  1.5,-0.3,-1.4,2.6,0.4,-1.0,1.7,-0.1,-1.9,1.1,
  -0.5,2.5,-1.4,1.0,0.0,-1.8,1.8,0.4,-1.2,2.6,
  -0.7,1.0,-1.8,0.4,2.0,-1.0,-0.2,1.3,-1.5,2.5,
  -0.2,-1.1,1.3,-1.9,0.5,2.0,-0.7,0.2,-1.5,1.5,
  0.3,-1.2,2.0,-0.4,-1.9,0.7,0.0,2.0,-0.8,-1.6,
  -1.3,1.0,-0.6,2.2,-1.0,0.3,-1.9,1.6,-0.2,-0.8,
  2.5,-1.4,0.6,-0.5,1.8,-1.8,0.0,1.2,-0.9,2.3,
  -1.4,0.6,-0.3,-2.0,1.7,-0.9,0.2,2.6,-1.2,0.9,
  -0.6,-1.7,1.4,-0.2,0.7,-1.1,2.4,-0.7,-1.5,1.1,
  0.3,-1.9,1.6,-0.4,-1.0,0.8,2.6,-1.4,0.1,1.3,
  -0.8,0.5,-1.7,1.8,-0.3,0.8,-1.2,1.5,0.1,-0.9];

// ---------- assemble ----------
const allMag = outMag.concat(brightMag, midMag, faintMag, faintestMag, spreadMag);
const allStd = outStd.concat(brightStd, midStd, faintStd, faintestStd, spreadStd);
const allSig = outSig.concat(brightSig, midSig, faintSig, faintestSig, spreadSig);

const FONT = 'DejaVu Sans, sans-serif';
const AXC = '#404040';
const dot = {color: '#000000', size: 5.5, line: {width: 0}};

const traces = [
  {x: allMag, y: allStd, xaxis: 'x', yaxis: 'y', type: 'scatter', mode: 'markers', marker: dot, hoverinfo: 'x+y'},
  {x: curveMag, y: redCurve, xaxis: 'x', yaxis: 'y', type: 'scatter', mode: 'lines', line: {color: '#ff0000', width: 1.6, shape: 'spline', smoothing: 0.8}},
  {x: curveMag, y: blueCurve, xaxis: 'x', yaxis: 'y', type: 'scatter', mode: 'lines', line: {color: '#0000ff', width: 1.6, shape: 'spline', smoothing: 0.8}},
  {x: allMag, y: allSig, xaxis: 'x2', yaxis: 'y2', type: 'scatter', mode: 'markers', marker: dot, hoverinfo: 'x+y'},
  {x: sigLineMag, y: sigRedLevel, xaxis: 'x2', yaxis: 'y2', type: 'scatter', mode: 'lines', line: {color: '#ff0000', width: 1.6}},
  {x: sigLineMag, y: sigBlueLevel, xaxis: 'x2', yaxis: 'y2', type: 'scatter', mode: 'lines', line: {color: '#0000ff', width: 1.6}}
];

function baseAxis(extra) {
  return Object.assign({
    showline: true, mirror: true, linecolor: AXC, linewidth: 1.3,
    ticks: 'outside', ticklen: 5, tickwidth: 1.2, tickcolor: AXC,
    showgrid: false, zeroline: false,
    tickfont: {family: FONT, size: 29, color: '#000'}
  }, extra);
}

const layout = {
  width: 1323, height: 713,
  margin: {l: 107, r: 2, t: 17, b: 75, pad: 0},
  paper_bgcolor: '#ffffff', plot_bgcolor: '#ffffff',
  showlegend: false,
  font: {family: FONT, size: 29, color: '#000'},
  xaxis: baseAxis({domain: [0, 1], anchor: 'y', range: [19.207, 27.49], tickvals: xTicks, ticktext: xTickText, ticklabelstandoff: -6}),
  yaxis: baseAxis({domain: [0.5443, 1], anchor: 'x', range: [-0.00001, 0.30002], tickvals: stdTicks, ticktext: stdTickText,
    title: {text: 'Std. Dev.', font: {family: FONT, size: 32.5, color: '#000'}, standoff: 4}}),
  xaxis2: baseAxis({domain: [0, 1], anchor: 'y2', range: [19.207, 27.49], tickvals: xTicks, ticktext: xTickText, ticklabelstandoff: -12}),
  yaxis2: baseAxis({domain: [0, 0.4541], anchor: 'x2', range: [-6.3, 54.8], tickvals: sigTicks, ticktext: sigTickText,
    title: {text: 'Variability Significance', font: {family: FONT, size: 32.5, color: '#000'}, standoff: 5}}),
  annotations: [
    {text: 'a', x: 19.60, y: 0.231, xref: 'x', yref: 'y', showarrow: false, font: {family: FONT, size: 33, color: '#000'}},
    {text: 'b', x: 19.69, y: 40.3, xref: 'x2', yref: 'y2', showarrow: false, font: {family: FONT, size: 33, color: '#000'}},
    {text: xTitle, x: 0.5, y: -0.1203, xref: 'paper', yref: 'paper', xanchor: 'center', yanchor: 'bottom', showarrow: false,
      borderpad: 0, font: {family: FONT, size: 31.5, color: '#000'}}
  ]
};

Plotly.newPlot('chart', traces, layout, {displayModeBar: false, staticPlot: true});
</script>
</body>
</html>
